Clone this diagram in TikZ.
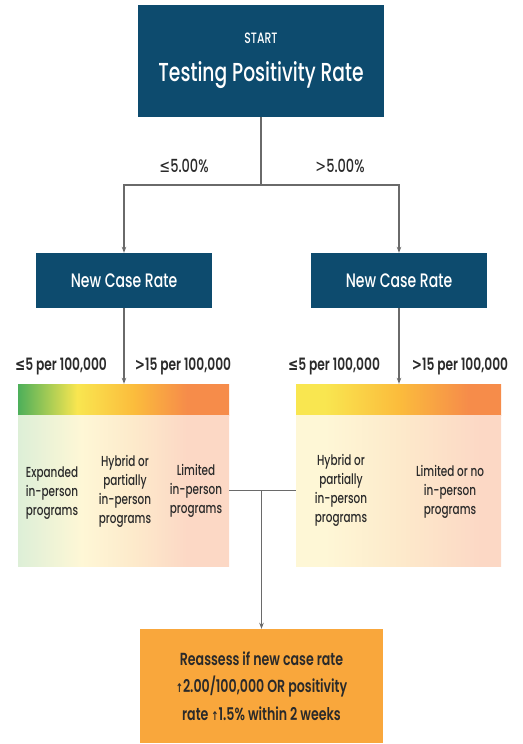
\documentclass[tikz,border=0pt]{standalone}
\usepackage{fontspec}
\setmainfont[FakeStretch=0.72, UprightFont=* Medium, BoldFont=* SemiBold]{Poppins}
\newfontfamily\symfont[FakeStretch=0.72]{DejaVu Sans}
\usetikzlibrary{arrows.meta}
\definecolor{navy}{HTML}{0D4B6E}
\definecolor{linegray}{HTML}{6A6A6A}
\definecolor{txt}{HTML}{2A2A2A}
\definecolor{boxorange}{HTML}{F9A73C}
\definecolor{cg}{HTML}{4DAF5A}
\definecolor{cy}{HTML}{F9E650}
\definecolor{cyo}{HTML}{FBBC3C}
\definecolor{co}{HTML}{F68C4A}
\definecolor{pg}{HTML}{DDEFD7}
\definecolor{py}{HTML}{FEF7D6}
\definecolor{pyo}{HTML}{FDEACB}
\definecolor{po}{HTML}{FCD8C5}
% TikZ maps a path onto 25bp..75bp of a 100bp shading
\pgfdeclarehorizontalshading{lbarshade}{100bp}{color(0bp)=(cg); color(25bp)=(cg); color(39bp)=(cy); color(52.5bp)=(cyo); color(65bp)=(co); color(100bp)=(co)}
\pgfdeclarehorizontalshading{lpanelshade}{100bp}{color(0bp)=(pg); color(25bp)=(pg); color(40bp)=(py); color(52.5bp)=(pyo); color(65bp)=(po); color(100bp)=(po)}
\pgfdeclarehorizontalshading{rbarshade}{100bp}{color(0bp)=(cy); color(32bp)=(cy); color(50bp)=(cyo); color(67bp)=(co); color(100bp)=(co)}
\pgfdeclarehorizontalshading{rpanelshade}{100bp}{color(0bp)=(py); color(32bp)=(py); color(50bp)=(pyo); color(70bp)=(po); color(100bp)=(po)}
\tikzset{
  navybox/.style={fill=navy, text=white, inner sep=0pt, align=center},
  conn/.style={draw=linegray, line width=1.4pt, -{Stealth[length=6pt,width=4.5pt]}},
  plainconn/.style={draw=linegray, line width=1.4pt},
  branchlabel/.style={text=txt, font=\fontsize{18}{21}\selectfont},
  ratelabel/.style={text=txt, font=\bfseries\fontsize{17}{20}\selectfont},
  paneltext/.style={text=txt, align=center, font=\fontsize{14.5}{19}\selectfont},
  barbox/.style={inner sep=0pt, minimum height=31pt},
  panelbox/.style={inner sep=0pt, minimum height=151pt}
}
\begin{document}
\begin{tikzpicture}[x=1pt,y=-1pt]
\useasboundingbox (0,0) rectangle (522,744);
% start box
\node[navybox, minimum width=246pt, minimum height=112pt] (start) at (261,61) {};
\node[text=white, font=\fontsize{15}{18}\selectfont] (startlbl) at (261,38) {START};
\node[text=white, font=\fontsize{26}{30}\selectfont] (startttl) at (261,75) {Testing Positivity Rate};
% new case rate boxes
\node[navybox, minimum width=176pt, minimum height=55pt, font=\fontsize{19.5}{22}\selectfont] (ncrL) at (124,280.5) {New Case Rate};
\node[navybox, minimum width=176pt, minimum height=55pt, font=\fontsize{19.5}{22}\selectfont] (ncrR) at (399,280.5) {New Case Rate};
% branch labels
\node[branchlabel] (le) at (184,166) {{\symfont ≤}5.00\%};
\node[branchlabel] (gt) at (340,166) {{\symfont >}5.00\%};
% connectors top
\coordinate (split) at (261,185);
\draw[plainconn] (start.south) -- (split);
\draw[conn] (split) -| (ncrL.north);
\draw[conn] (split) -| (ncrR.north);
% bars and panels
\node[barbox, minimum width=211pt, shading=lbarshade] (lbar) at (123.5,399.5) {};
\node[panelbox, minimum width=211pt, shading=lpanelshade] (lpanel) at (123.5,490.5) {};
\node[barbox, minimum width=205pt, shading=rbarshade] (rbar) at (398.5,399.5) {};
\node[panelbox, minimum width=205pt, shading=rpanelshade] (rpanel) at (398.5,490.5) {};
% rate labels
\node[ratelabel] (lle) at (61,366) {{\symfont ≤}5 per 100,000};
\node[ratelabel] (lgt) at (183,366) {{\symfont >}15 per 100,000};
\node[ratelabel] (rle) at (334,366) {{\symfont ≤}5 per 100,000};
\node[ratelabel] (rgt) at (460,366) {{\symfont >}15 per 100,000};
\draw[conn] (ncrL.south) -- (ncrL.south |- lbar.north);
\draw[conn] (ncrR.south) -- (ncrR.south |- rbar.north);
% panel texts
\node[paneltext] (t1) at (52,493) {Expanded\\in-person\\programs};
\node[paneltext] (t2) at (125,491) {Hybrid or\\partially\\in-person\\programs};
\node[paneltext] (t3) at (196,491) {Limited\\in-person\\programs};
\node[paneltext] (t4) at (341,490) {Hybrid or\\partially\\in-person\\programs};
\node[paneltext] (t5) at (450,492) {Limited or no\\in-person\\programs};
% bottom box
\node[fill=boxorange, minimum width=243pt, minimum height=114pt, inner sep=0pt, align=center, text=txt, font=\bfseries\fontsize{17.5}{27.5}\selectfont] (reassess) at (261.5,686) {Reassess if new case rate\\{\symfont\fontsize{12}{12}\selectfont ↑}2.00/100,000 OR positivity\\rate {\symfont\fontsize{12}{12}\selectfont ↑}1.5\% within 2 weeks};
% join connector
\coordinate (join) at (reassess.north |- lpanel.east);
\draw[plainconn] (lpanel.east) -- (rpanel.west);
\draw[conn] (join) -- (reassess.north);
\end{tikzpicture}
\end{document}
